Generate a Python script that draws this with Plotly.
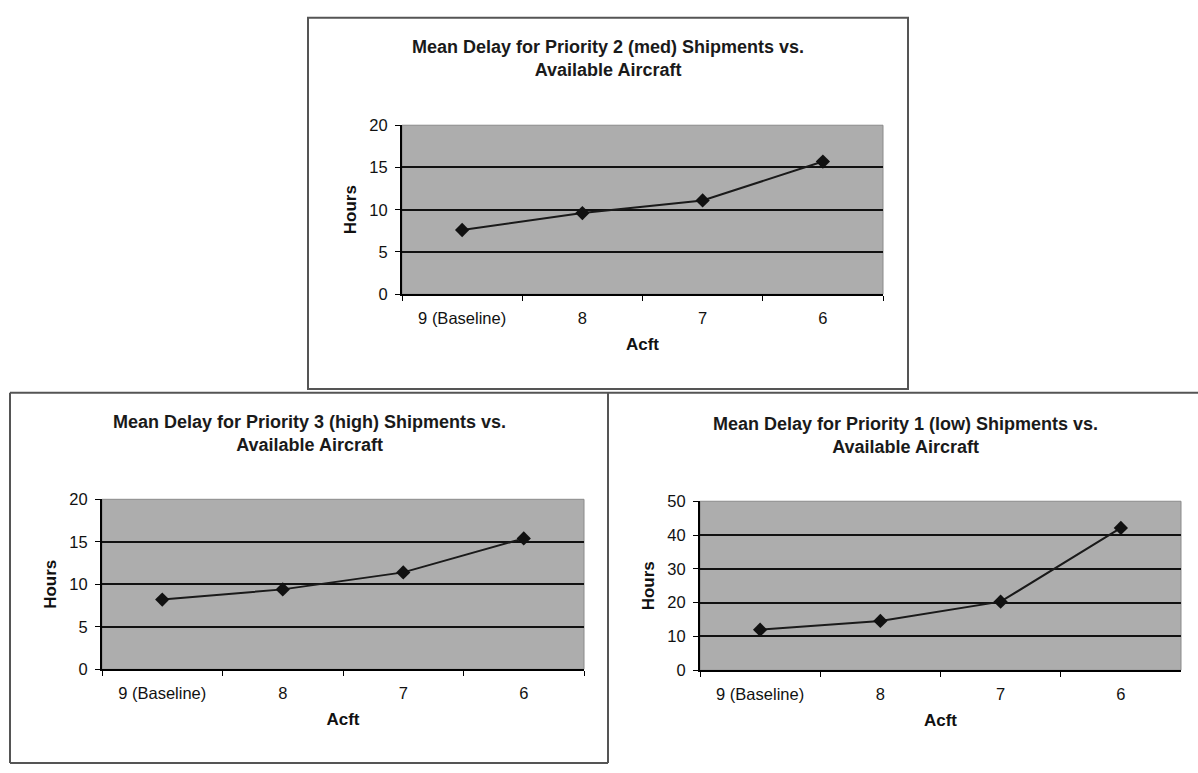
import plotly.graph_objects as go

categories = ["9 (Baseline)", "8", "7", "6"]
p2_med = [7.6, 9.6, 11.1, 15.7]
p3_high = [8.2, 9.4, 11.4, 15.4]
p1_low = [12.0, 14.6, 20.3, 42.1]

titles = [
    "Mean Delay for Priority 2 (med) Shipments vs.<br>Available Aircraft",
    "Mean Delay for Priority 3 (high) Shipments vs.<br>Available Aircraft",
    "Mean Delay for Priority 1 (low) Shipments vs.<br>Available Aircraft",
]
y_maxes = [20, 20, 50]
y_dticks = [5, 5, 10]

W, H = 1198, 773

def px(x):
    return x / W

def py(y):
    return 1 - y / H

# plot-area pixel boxes: (left, right, top, bottom)
areas = [(402, 883, 119, 292), (102, 584, 502, 676), (700, 1181, 504, 677)]
title_pos = [(608, 51), (309, 435), (905, 437)]
series = [p2_med, p3_high, p1_low]

fig = go.Figure()
FONT = "Liberation Sans, Arial, sans-serif"

for i, (vals, (l, r, t, b)) in enumerate(zip(series, areas)):
    n = "" if i == 0 else str(i + 1)
    fig.add_trace(go.Scatter(
        x=categories, y=vals, mode="lines+markers",
        line=dict(color="#1a1a1a", width=2),
        marker=dict(symbol="diamond", size=11, color="#111111"),
        xaxis="x" + n, yaxis="y" + n, showlegend=False,
    ))
    fig.layout["xaxis" + n] = dict(
        domain=[px(l), px(r)], anchor="y" + n, type="category",
        range=[-0.5, 3.5], tickson="boundaries", ticks="outside", ticklen=5,
        tickcolor="black", showline=True, linecolor="black", linewidth=2,
        showgrid=False, ticklabelstandoff=8,
        tickfont=dict(family=FONT, size=16.5, color="#111"),
        title=dict(text="<b>Acft</b>", standoff=12,
                   font=dict(family=FONT, size=17, color="#111")),
        fixedrange=True,
    )
    fig.layout["yaxis" + n] = dict(
        domain=[py(b), py(t)], anchor="x" + n,
        range=[0, y_maxes[i]], dtick=y_dticks[i], ticks="outside", ticklen=5,
        tickcolor="black", showline=True, linecolor="black", linewidth=2,
        showgrid=True, gridcolor="#111111", gridwidth=2, zeroline=False,
        ticklabelstandoff=4,
        tickfont=dict(family=FONT, size=16.5, color="#111"),
        title=dict(text="<b>Hours</b>", standoff=8,
                   font=dict(family=FONT, size=17, color="#111")),
        fixedrange=True,
    )
    # plot-area background
    fig.add_shape(type="rect", xref="paper", yref="paper",
                  x0=px(l), x1=px(r), y0=py(b), y1=py(t),
                  fillcolor="#adadad", line=dict(color="#8a8a8a", width=1),
                  layer="below")
    tx, ty = title_pos[i]
    fig.add_annotation(text="<b>" + titles[i] + "</b>", xref="paper", yref="paper",
                       x=px(tx), y=py(ty), xanchor="center", yanchor="middle",
                       showarrow=False, align="center",
                       font=dict(family=FONT, size=18, color="#1a1a1a"))

border = dict(color="#555555", width=2)
# top chart box
fig.add_shape(type="rect", xref="paper", yref="paper",
              x0=px(308), x1=px(908), y0=py(389), y1=py(9), line=border)
# bottom row frames
fig.add_shape(type="line", xref="paper", yref="paper",
              x0=px(10), x1=px(1198), y0=py(393), y1=py(393), line=border)
fig.add_shape(type="line", xref="paper", yref="paper",
              x0=px(10), x1=px(10), y0=py(393), y1=py(772), line=border)
fig.add_shape(type="line", xref="paper", yref="paper",
              x0=px(608), x1=px(608), y0=py(393), y1=py(772), line=border)
fig.add_shape(type="line", xref="paper", yref="paper",
              x0=px(10), x1=px(608), y0=py(772), y1=py(772), line=border)

fig.update_layout(
    width=W, height=H, margin=dict(l=0, r=0, t=0, b=0),
    paper_bgcolor="white", plot_bgcolor="rgba(0,0,0,0)",
    font=dict(family=FONT, color="#111"),
)

fig.write_html("out.html", config={"displayModeBar": False},
               post_script="document.body.style.margin='0';document.body.style.overflow='hidden';")
